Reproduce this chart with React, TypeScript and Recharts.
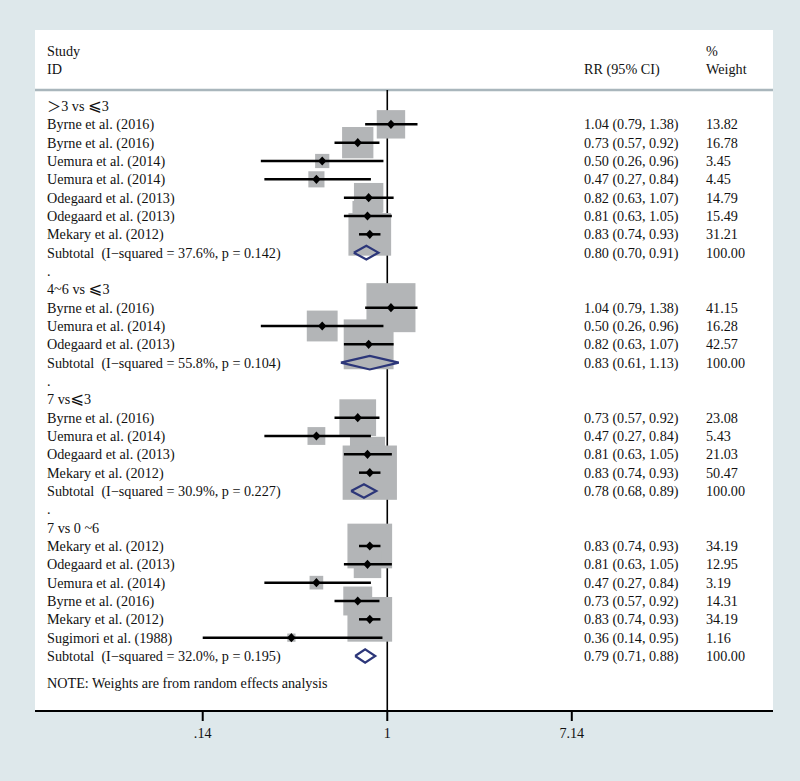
import React from "react";
import {
  ComposedChart,
  Scatter,
  XAxis,
  YAxis,
  ZAxis,
  ReferenceLine,
  CartesianGrid,
} from "recharts";

// ---------------- data ----------------
const groupTitles = ["＞3 vs ⩽3", "4~6 vs ⩽3", "7 vs⩽3", "7 vs 0 ~6"];

const studyGroup = [0, 0, 0, 0, 0, 0, 0, 1, 1, 1, 2, 2, 2, 2, 3, 3, 3, 3, 3, 3];
const studyNames = [
  "Byrne et al. (2016)",
  "Byrne et al. (2016)",
  "Uemura et al. (2014)",
  "Uemura et al. (2014)",
  "Odegaard et al. (2013)",
  "Odegaard et al. (2013)",
  "Mekary et al. (2012)",
  "Byrne et al. (2016)",
  "Uemura et al. (2014)",
  "Odegaard et al. (2013)",
  "Byrne et al. (2016)",
  "Uemura et al. (2014)",
  "Odegaard et al. (2013)",
  "Mekary et al. (2012)",
  "Mekary et al. (2012)",
  "Odegaard et al. (2013)",
  "Uemura et al. (2014)",
  "Byrne et al. (2016)",
  "Mekary et al. (2012)",
  "Sugimori et al. (1988)",
];
const studyRR = [1.04, 0.73, 0.5, 0.47, 0.82, 0.81, 0.83, 1.04, 0.5, 0.82, 0.73, 0.47, 0.81, 0.83, 0.83, 0.81, 0.47, 0.73, 0.83, 0.36];
const studyLow = [0.79, 0.57, 0.26, 0.27, 0.63, 0.63, 0.74, 0.79, 0.26, 0.63, 0.57, 0.27, 0.63, 0.74, 0.74, 0.63, 0.27, 0.57, 0.74, 0.14];
const studyHigh = [1.38, 0.92, 0.96, 0.84, 1.07, 1.05, 0.93, 1.38, 0.96, 1.07, 0.92, 0.84, 1.05, 0.93, 0.93, 1.05, 0.84, 0.92, 0.93, 0.95];
const studyWeight = [13.82, 16.78, 3.45, 4.45, 14.79, 15.49, 31.21, 41.15, 16.28, 42.57, 23.08, 5.43, 21.03, 50.47, 34.19, 12.95, 3.19, 14.31, 34.19, 1.16];

const subtotalHetero = [
  "(I−squared = 37.6%, p = 0.142)",
  "(I−squared = 55.8%, p = 0.104)",
  "(I−squared = 30.9%, p = 0.227)",
  "(I−squared = 32.0%, p = 0.195)",
];
const subtotalRR = [0.8, 0.83, 0.78, 0.79];
const subtotalLow = [0.7, 0.61, 0.68, 0.71];
const subtotalHigh = [0.91, 1.13, 0.89, 0.88];
const subtotalWeight = [100, 100, 100, 100];

const axisTicks = [0.14, 1, 7.14];
const axisTickLabels = [".14", "1", "7.14"];

const noteText = "NOTE: Weights are from random effects analysis";

// ---------------- layout ----------------
const W = 800;
const H = 781;
const X_DOMAIN: [number, number] = [0.02345, 60.9];
const Y_DOMAIN: [number, number] = [-4.145, 33.0];
const SEP_ROW = -0.873;
const COL_LABEL = 47;
const COL_RR = 584;
const COL_W = 706;
const FONT = "'Liberation Serif', 'Times New Roman', serif";
const FONT_SIZE = 14.2;
const TEXT_COLOR = "#111111";
const BG = "#dee8eb";
const BOX = "#b3b5b7";
const NAVY = "#2c3679";

const fmt2 = (v: number) => v.toFixed(2);
const rrText = (e: number, l: number, h: number) => `${fmt2(e)} (${fmt2(l)}, ${fmt2(h)})`;

// ---------------- build rows ----------------
type TextRow = { row: number; label: string; rr?: string; weight?: string };
const textRows: TextRow[] = [
  { row: -3, label: "Study", weight: "%" },
  { row: -2, label: "ID", rr: "RR (95% CI)", weight: "Weight" },
];
const studyPoints: { x: number; y: number; w: number; lo: number; hi: number }[] = [];
const diamonds: { x: number; y: number }[][] = [];

let r = 0;
groupTitles.forEach((title, g) => {
  textRows.push({ row: r, label: title });
  r += 1;
  studyGroup.forEach((sg, i) => {
    if (sg !== g) return;
    textRows.push({
      row: r,
      label: studyNames[i],
      rr: rrText(studyRR[i], studyLow[i], studyHigh[i]),
      weight: studyWeight[i].toFixed(2),
    });
    studyPoints.push({ x: studyRR[i], y: r, w: studyWeight[i], lo: studyLow[i], hi: studyHigh[i] });
    r += 1;
  });
  textRows.push({
    row: r,
    label: `Subtotal  ${subtotalHetero[g]}`,
    rr: rrText(subtotalRR[g], subtotalLow[g], subtotalHigh[g]),
    weight: subtotalWeight[g].toFixed(2),
  });
  const hh = 0.37;
  diamonds.push([
    { x: subtotalLow[g], y: r },
    { x: subtotalRR[g], y: r - hh },
    { x: subtotalHigh[g], y: r },
    { x: subtotalRR[g], y: r + hh },
    { x: subtotalLow[g], y: r },
  ]);
  r += 1;
  if (g < groupTitles.length - 1) {
    textRows.push({ row: r, label: "." });
    r += 1;
  }
});
textRows.push({ row: r + 0.5, label: noteText });

const rowMap = new Map<number, TextRow>();
textRows.forEach((t) => rowMap.set(t.row, t));
const yTicks = textRows.map((t) => t.row);

// ---------------- shapes ----------------
const renderLabel = (label: string) => {
  const parts: React.ReactNode[] = [];
  let buf = "";
  let k = 0;
  for (const ch of Array.from(label)) {
    if (ch === "＞" || ch === "⩽") {
      if (buf) parts.push(<tspan key={k++}>{buf}</tspan>);
      buf = "";
      parts.push(
        <tspan
          key={k++}
          fontFamily={ch === "＞" ? "'Noto Sans CJK SC', sans-serif" : "'DejaVu Sans', sans-serif"}
          fontSize={ch === "＞" ? FONT_SIZE : 16.5}
        >
          {ch}
        </tspan>
      );
    } else buf += ch;
  }
  if (buf) parts.push(<tspan key={k++}>{buf}</tspan>);
  return parts;
};

const RowTick = (props: any) => {
  const { y, payload } = props;
  const t = rowMap.get(payload.value);
  if (!t) return <g />;
  const common = {
    y,
    dy: "0.35em",
    fontFamily: FONT,
    fontSize: FONT_SIZE,
    fill: TEXT_COLOR,
    textAnchor: "start" as const,
    style: { whiteSpace: "pre" as const },
  };
  return (
    <g>
      <text x={COL_LABEL} {...common}>
        {renderLabel(t.label)}
      </text>
      {t.rr && (
        <text x={COL_RR} {...common}>
          {t.rr}
        </text>
      )}
      {t.weight && (
        <text x={COL_W} {...common}>
          {t.weight}
        </text>
      )}
    </g>
  );
};

const XTick = (props: any) => {
  const { x, y, payload } = props;
  const i = axisTicks.indexOf(payload.value);
  const label = i >= 0 ? axisTickLabels[i] : String(payload.value);
  return (
    <text x={x} y={y} dy="0.75em" textAnchor="middle" fontFamily={FONT} fontSize={FONT_SIZE} fill={TEXT_COLOR}>
      {label}
    </text>
  );
};

const SquareShape = (p: any) => {
  const area = typeof p.size === "number" ? p.size : Math.PI * Math.pow((p.width || 0) / 2, 2);
  const s = Math.sqrt(Math.max(area, 0));
  return <rect x={p.cx - s / 2} y={p.cy - s / 2} width={s} height={s} fill={BOX} />;
};

const MarkerShape = (p: any) => (
  <polygon
    points={`${p.cx - 4.2},${p.cy} ${p.cx},${p.cy - 4.6} ${p.cx + 4.2},${p.cy} ${p.cx},${p.cy + 4.6}`}
    fill="#000"
  />
);

const NoShape = () => <g />;

export default function App() {
  return (
    <div style={{ position: "absolute", left: 0, top: 0, width: W, height: H, background: BG }}>
      <ComposedChart width={W} height={H} margin={{ top: 30, right: 27, bottom: 30, left: 34 }}>
        <CartesianGrid horizontal={false} vertical={false} fill="#ffffff" fillOpacity={1} />
        <XAxis
          type="number"
          dataKey="x"
          scale="log"
          domain={X_DOMAIN}
          allowDataOverflow
          ticks={axisTicks}
          interval={0}
          height={40}
          tickSize={10}
          tickMargin={6}
          axisLine={{ stroke: "#000", strokeWidth: 2 }}
          tickLine={{ stroke: "#000", strokeWidth: 2 }}
          tick={<XTick />}
        />
        <YAxis
          type="number"
          dataKey="y"
          domain={Y_DOMAIN}
          reversed
          allowDataOverflow
          ticks={yTicks}
          interval={0}
          width={1}
          axisLine={false}
          tickLine={false}
          tick={<RowTick />}
        />
        <ZAxis zAxisId="sq" type="number" dataKey="w" domain={[0, 100]} range={[0, 5840]} />
        <ReferenceLine y={SEP_ROW} stroke="#a9b6bc" strokeWidth={2.5} zIndex={50} />
        <ReferenceLine
          segment={[
            { x: 1, y: SEP_ROW },
            { x: 1, y: Y_DOMAIN[1] },
          ]}
          stroke="#000"
          strokeWidth={1.6}
          zIndex={60}
        />
        <Scatter
          data={studyPoints}
          zAxisId="sq"
          shape={SquareShape}
          isAnimationActive={false}
          zIndex={100}
        />
        {studyPoints.map((p, i) => (
          <ReferenceLine
            key={`ci${i}`}
            segment={[
              { x: p.lo, y: p.y },
              { x: p.hi, y: p.y },
            ]}
            stroke="#000"
            strokeWidth={2.5}
            zIndex={200}
          />
        ))}
        <Scatter data={studyPoints} shape={MarkerShape} isAnimationActive={false} zIndex={300} />
        {diamonds.map((d, i) => (
          <Scatter
            key={`dm${i}`}
            data={d}
            shape={NoShape}
            line={{ stroke: NAVY, strokeWidth: 2.2, strokeLinejoin: "miter" }}
            lineType="joint"
            isAnimationActive={false}
            zIndex={400}
          />
        ))}
      </ComposedChart>
    </div>
  );
}
